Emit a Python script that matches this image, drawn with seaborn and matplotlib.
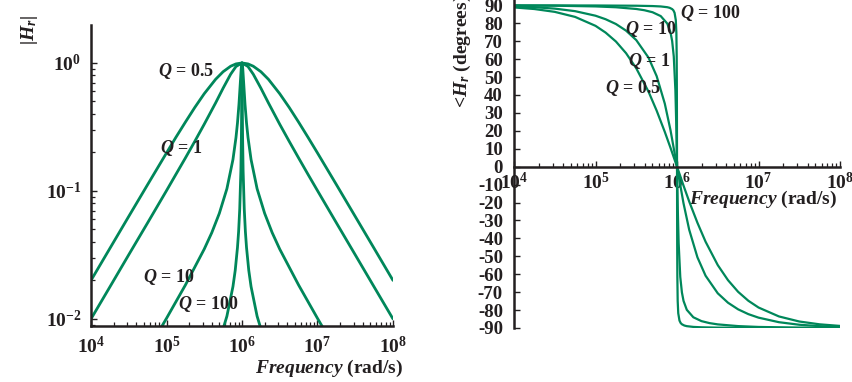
"""Band-pass response |H_r| and phase of H_r for several Q values."""

import matplotlib.pyplot as plt
import pandas as pd
import seaborn as sns
from matplotlib.ticker import NullFormatter

GREEN = "#00875a"
INK = "#231f20"

# Q = 0.5 and Q = 1 share one frequency grid (rad/s)
freq_wide = [
    1.0e4, 1.78e4, 3.16e4, 5.62e4, 1.0e5, 1.33e5, 1.78e5, 2.37e5, 3.16e5,
    4.47e5, 5.62e5, 7.08e5, 8.32e5, 1.0e6, 1.20e6, 1.41e6, 1.78e6, 2.24e6,
    3.16e6, 4.22e6, 5.62e6, 7.50e6, 1.0e7, 1.78e7, 3.16e7, 5.62e7, 1.0e8,
]
mag_q05 = [
    0.0200, 0.0356, 0.0632, 0.112, 0.198, 0.262, 0.345, 0.449, 0.575,
    0.745, 0.854, 0.943, 0.983, 1.0, 0.983, 0.943, 0.854, 0.745,
    0.575, 0.449, 0.345, 0.262, 0.198, 0.112, 0.0632, 0.0356, 0.0200,
]
mag_q1 = [
    0.0100, 0.0178, 0.0317, 0.0563, 0.1005, 0.1345, 0.181, 0.244, 0.332,
    0.487, 0.635, 0.817, 0.938, 1.0, 0.938, 0.817, 0.635, 0.487,
    0.332, 0.244, 0.181, 0.1345, 0.1005, 0.0563, 0.0317, 0.0178, 0.0100,
]
phase_q05 = [
    88.85, 87.96, 86.38, 83.56, 78.58, 74.81, 69.83, 63.32, 54.9,
    41.86, 31.30, 19.41, 10.50, 0.0, -10.50, -19.41, -31.30, -41.86,
    -54.9, -63.32, -69.83, -74.81, -78.58, -83.56, -86.38, -87.96, -88.85,
]
phase_q1 = [
    89.43, 88.98, 88.19, 86.77, 84.23, 82.27, 79.60, 75.90, 70.64,
    60.84, 50.57, 35.17, 20.33, 0.0, -20.33, -35.17, -50.57, -60.84,
    -70.64, -75.90, -79.60, -82.27, -84.23, -86.77, -88.19, -88.98, -89.43,
]

freq_q10 = [
    1.0e4, 3.16e4, 1.0e5, 1.78e5, 3.16e5, 3.98e5, 5.01e5, 6.31e5, 7.59e5,
    8.32e5, 8.71e5, 9.12e5, 9.55e5, 9.77e5, 1.0e6, 1.023e6, 1.047e6,
    1.096e6, 1.148e6, 1.202e6, 1.318e6, 1.585e6, 1.995e6, 2.51e6, 3.16e6,
    5.62e6, 1.0e7, 3.16e7, 1.0e8,
]
mag_q10 = [
    0.0010, 0.00317, 0.0101, 0.0184, 0.0351, 0.0472, 0.0668, 0.104, 0.176,
    0.261, 0.339, 0.477, 0.735, 0.908, 1.0, 0.908, 0.735,
    0.477, 0.339, 0.261, 0.176, 0.104, 0.0668, 0.0472, 0.0351,
    0.0184, 0.0101, 0.00317, 0.0010,
]
phase_q10 = [
    89.94, 89.82, 89.42, 88.95, 87.99, 87.29, 86.17, 84.02, 79.87,
    74.90, 70.17, 61.54, 42.66, 24.73, 0.0, -24.73, -42.66,
    -61.54, -70.17, -74.90, -79.87, -84.02, -86.17, -87.29, -87.99,
    -88.95, -89.42, -89.82, -89.94,
]

freq_q100 = [
    1.0e4, 1.0e5, 3.16e5, 5.01e5, 6.31e5, 7.59e5, 8.13e5, 8.71e5, 9.02e5,
    9.33e5, 9.66e5, 9.817e5, 9.908e5, 9.954e5, 9.977e5, 1.0e6,
    1.0023e6, 1.0046e6, 1.0093e6, 1.0186e6, 1.0351e6, 1.0715e6, 1.109e6,
    1.148e6, 1.230e6, 1.318e6, 1.585e6, 1.995e6, 3.16e6, 1.0e7, 1.0e8,
]
mag_q100 = [
    0.0001, 0.00101, 0.00351, 0.00669, 0.0105, 0.0179, 0.0239, 0.0361, 0.0481,
    0.0721, 0.143, 0.262, 0.477, 0.736, 0.908, 1.0,
    0.908, 0.736, 0.477, 0.262, 0.143, 0.0721, 0.0481,
    0.0361, 0.0239, 0.0179, 0.0105, 0.00669, 0.00351, 0.00101, 0.0001,
]
phase_q100 = [
    89.99, 89.94, 89.80, 89.62, 89.40, 88.98, 88.63, 87.93, 87.24,
    85.86, 81.76, 74.81, 61.50, 42.65, 24.73, 0.0,
    -24.73, -42.65, -61.50, -74.81, -81.76, -85.86, -87.24,
    -87.93, -88.63, -88.98, -89.40, -89.62, -89.80, -89.94, -89.99,
]

curves = [
    ("0.5", freq_wide, mag_q05, phase_q05),
    ("1", freq_wide, mag_q1, phase_q1),
    ("10", freq_q10, mag_q10, phase_q10),
    ("100", freq_q100, mag_q100, phase_q100),
]
df = pd.concat(
    [pd.DataFrame({"Q": q, "freq": f, "mag": m, "phase": p}) for q, f, m, p in curves],
    ignore_index=True,
)
palette = {q: GREEN for q, *_ in curves}

sns.set_style("ticks")
plt.rcParams.update({
    "font.family": ["Liberation Serif", "DejaVu Serif"],
    "font.weight": "bold",
    "axes.labelweight": "bold",
    "mathtext.fontset": "custom",
    "mathtext.rm": "Liberation Serif:bold",
    "mathtext.it": "Liberation Serif:italic:bold",
    "mathtext.bf": "Liberation Serif:bold",
    "text.color": INK,
    "axes.labelcolor": INK,
    "axes.edgecolor": INK,
    "xtick.color": INK,
    "ytick.color": INK,
})

fig = plt.figure(figsize=(8.53, 3.82), dpi=100)
ax1 = fig.add_axes([0.1067, 0.1466, 0.3540, 0.7880])
ax2 = fig.add_axes([0.6026, 0.1414, 0.3822, 0.8586])

# --- magnitude ---
sns.lineplot(data=df, x="freq", y="mag", hue="Q", palette=palette, legend=False,
             estimator=None, sort=False, linewidth=2.0, ax=ax1)
ax1.set_xscale("log")
ax1.set_yscale("log")
ax1.set_xlim(1e4, 1e8)
ax1.set_ylim(0.0088, 1.98)
ax1.set_xticks([1e4, 1e5, 1e6, 1e7, 1e8])
ax1.set_xticklabels(["$10^{4}$", "$10^{5}$", "$10^{6}$", "$10^{7}$", "$10^{8}$"])
ax1.set_yticks([1e-2, 1e-1, 1e0])
ax1.set_yticklabels(["$10^{-2}$", "$10^{-1}$", "$10^{0}$"])
ax1.xaxis.set_minor_formatter(NullFormatter())
ax1.yaxis.set_minor_formatter(NullFormatter())
ax1.set_xlabel("$Frequency$ (rad/s)", fontsize=14, ha="right", va="center")
ax1.xaxis.set_label_coords(1.033, -0.14)
ax1.set_ylabel("")
fig.text(30 / 853, 1 - 30 / 382, "|$H_r$|", rotation=90, fontsize=14,
         fontstyle="italic", ha="center", va="center")

for x, y, q in [(7.7e4, 0.866, "0.5"), (8.2e4, 0.217, "1"),
                (4.9e4, 0.0213, "10"), (1.42e5, 0.0131, "100")]:
    ax1.text(x, y, f"$Q$ = {q}", fontsize=13, ha="left", va="center")

# --- phase ---
sns.lineplot(data=df, x="freq", y="phase", hue="Q", palette=palette, legend=False,
             estimator=None, sort=False, linewidth=1.6, ax=ax2)
ax2.set_xscale("log")
ax2.set_xlim(1e4, 1e8)
ax2.set_ylim(-90, 93)
ax2.set_xticks([1e4, 1e5, 1e6, 1e7, 1e8])
ax2.set_xticklabels(["$10^{4}$", "$10^{5}$", "$10^{6}$", "$10^{7}$", "$10^{8}$"])
ax2.xaxis.set_minor_formatter(NullFormatter())
deg_ticks = list(range(-90, 91, 10))
ax2.set_yticks(deg_ticks)
ax2.set_yticklabels([str(d) for d in deg_ticks])
ax2.spines["bottom"].set_position(("data", 0))
ax2.spines["left"].set_bounds(-90, 93)
ax2.set_xlabel("$Frequency$ (rad/s)", fontsize=14, ha="right", va="center")
ax2.xaxis.set_label_coords(0.991, 0.392)
ax2.set_ylabel("")
fig.text(462 / 853, 1 - 108 / 382, "<$H_r$ (degrees)", rotation=90, fontsize=14,
         ha="center", va="bottom")

for x, y, q in [(1.09e6, 85.5, "100"), (2.3e5, 77, "10"),
                (2.5e5, 59, "1"), (1.31e5, 44, "0.5")]:
    ax2.text(x, y, f"$Q$ = {q}", fontsize=13, ha="left", va="center")

for ax in (ax1, ax2):
    sns.despine(ax=ax)
    for side in ("left", "bottom"):
        ax.spines[side].set_linewidth(1.8)
    ax.tick_params(which="major", direction="in", length=4, width=1.0,
                   labelsize=14, pad=7)
    ax.tick_params(which="minor", direction="in", length=3, width=0.9)
ax2.tick_params(axis="y", which="major", pad=8, labelsize=13.5)
ax2.tick_params(axis="x", which="major", pad=4)

fig.savefig("out.png", dpi=100)
